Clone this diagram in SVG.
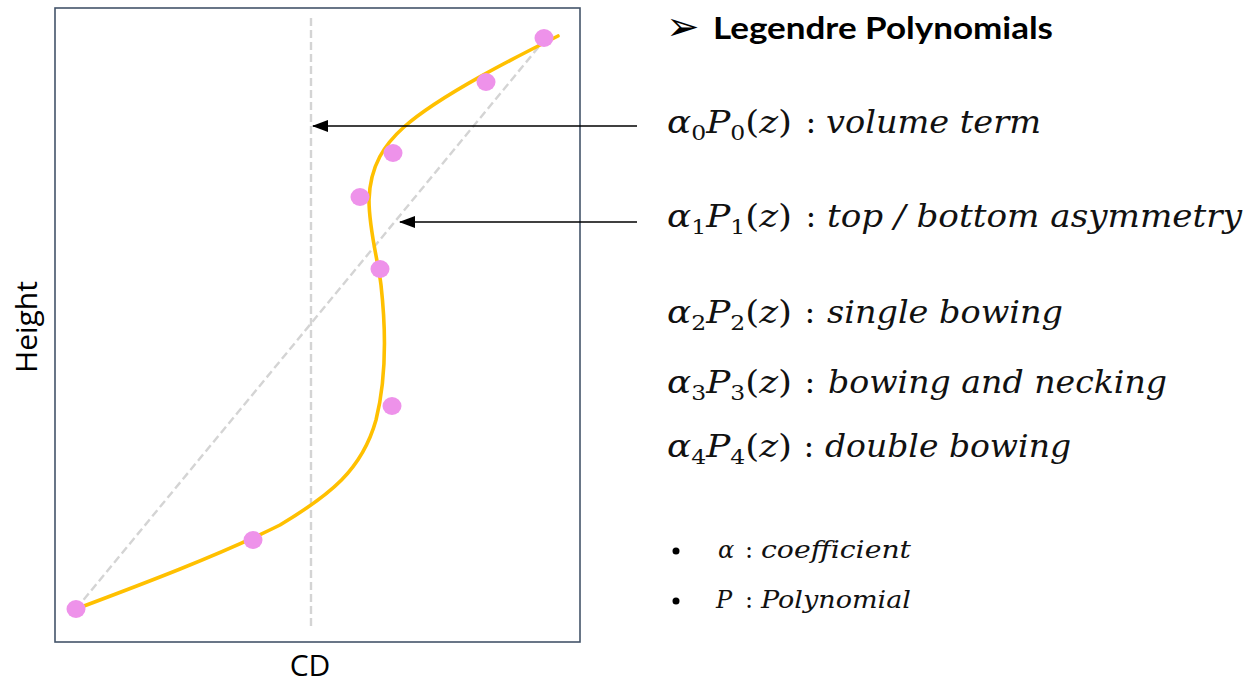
<svg xmlns="http://www.w3.org/2000/svg" width="1255" height="684" viewBox="0 0 1255 684">
<style>
.frame{fill:none;stroke:#44546A;stroke-width:1.6}
.dash{fill:none;stroke:#D4D4D4;stroke-width:2.4;stroke-dasharray:8 4}
.curve{fill:none;stroke:#FFC000;stroke-width:3.6;stroke-linecap:round}
.dot{fill:#EE92EA}
.conn{stroke:#000;stroke-width:1.4;fill:none}
.axis{font-family:"Open Sans","DejaVu Sans",sans-serif;font-size:30px;fill:#000}
.title{font-family:Lato,"Liberation Sans",sans-serif;font-weight:bold;font-size:31px;fill:#000}
.m{font-family:"DejaVu Serif","Liberation Serif",serif;font-size:32px;fill:#111}
.i{font-style:italic}
.sub{font-size:21px;font-style:normal}
.s{font-family:"DejaVu Serif","Liberation Serif",serif;font-size:24px;fill:#111}
</style>
<defs>
<marker id="ah" markerWidth="16" markerHeight="12" refX="15" refY="6" orient="auto" markerUnits="userSpaceOnUse">
<path d="M0,0 L16,6 L0,12 Z" fill="#000"/>
</marker>
</defs>
<g id="plot">
<rect class="frame" x="55" y="8" width="525" height="634"/>
<line class="dash" x1="311" y1="18" x2="311" y2="630"/>
<line class="dash" x1="76" y1="609" x2="546" y2="38"/>
<path class="curve" d="M558,36 C520,55 440,95 404,127 C385,144 370,165 369,200 C369,230 378,260 381,285 C386,330 386,380 376,420 C362,470 330,495 280,525 C220,555 140,585 76,609"/>
<ellipse class="dot" cx="544" cy="38" rx="9.5" ry="9"/>
<ellipse class="dot" cx="486" cy="82" rx="9.5" ry="9"/>
<ellipse class="dot" cx="393" cy="153" rx="9.5" ry="9"/>
<ellipse class="dot" cx="360" cy="197" rx="9.5" ry="9"/>
<ellipse class="dot" cx="380" cy="269" rx="9.5" ry="9"/>
<ellipse class="dot" cx="392" cy="406" rx="9.5" ry="9"/>
<ellipse class="dot" cx="253" cy="540" rx="9.5" ry="9"/>
<ellipse class="dot" cx="76" cy="609" rx="9.5" ry="9"/>
<text class="axis" x="310" y="676" text-anchor="middle">CD</text>
<text class="axis" transform="translate(37,327) rotate(-90)" text-anchor="middle">Height</text>
</g>
<g id="connectors">
<line class="conn" x1="637" y1="126" x2="313" y2="126" marker-end="url(#ah)"/>
<line class="conn" x1="637" y1="222" x2="400" y2="222" marker-end="url(#ah)"/>
</g>
<g id="title">
<text x="666" y="40" style="font-family:'DejaVu Sans',sans-serif;font-size:40px">➢</text>
<text class="title" x="713" y="39" textLength="340" lengthAdjust="spacingAndGlyphs">Legendre Polynomials</text>
</g>
<g id="term0">
<text class="m" x="667" y="133" textLength="125" lengthAdjust="spacingAndGlyphs"><tspan class="i">α</tspan><tspan class="sub" dy="7">0</tspan><tspan class="i" dy="-7">P</tspan><tspan class="sub" dy="7">0</tspan><tspan dy="-7">(</tspan><tspan class="i">z</tspan>)</text>
<text class="m" x="811" y="133" text-anchor="middle">:</text>
<text class="m i" x="826" y="133" textLength="215" lengthAdjust="spacingAndGlyphs">volume term</text>
</g>
<g id="term1">
<text class="m" x="667" y="227" textLength="125" lengthAdjust="spacingAndGlyphs"><tspan class="i">α</tspan><tspan class="sub" dy="7">1</tspan><tspan class="i" dy="-7">P</tspan><tspan class="sub" dy="7">1</tspan><tspan dy="-7">(</tspan><tspan class="i">z</tspan>)</text>
<text class="m" x="811" y="227" text-anchor="middle">:</text>
<text class="m i" x="827" y="227" textLength="415" lengthAdjust="spacingAndGlyphs">top / bottom asymmetry</text>
</g>
<g id="term2">
<text class="m" x="667" y="323" textLength="125" lengthAdjust="spacingAndGlyphs"><tspan class="i">α</tspan><tspan class="sub" dy="7">2</tspan><tspan class="i" dy="-7">P</tspan><tspan class="sub" dy="7">2</tspan><tspan dy="-7">(</tspan><tspan class="i">z</tspan>)</text>
<text class="m" x="810" y="323" text-anchor="middle">:</text>
<text class="m i" x="827" y="323" textLength="236" lengthAdjust="spacingAndGlyphs">single bowing</text>
</g>
<g id="term3">
<text class="m" x="667" y="393" textLength="125" lengthAdjust="spacingAndGlyphs"><tspan class="i">α</tspan><tspan class="sub" dy="7">3</tspan><tspan class="i" dy="-7">P</tspan><tspan class="sub" dy="7">3</tspan><tspan dy="-7">(</tspan><tspan class="i">z</tspan>)</text>
<text class="m" x="810" y="393" text-anchor="middle">:</text>
<text class="m i" x="828" y="393" textLength="339" lengthAdjust="spacingAndGlyphs">bowing and necking</text>
</g>
<g id="term4">
<text class="m" x="667" y="457" textLength="125" lengthAdjust="spacingAndGlyphs"><tspan class="i">α</tspan><tspan class="sub" dy="7">4</tspan><tspan class="i" dy="-7">P</tspan><tspan class="sub" dy="7">4</tspan><tspan dy="-7">(</tspan><tspan class="i">z</tspan>)</text>
<text class="m" x="809" y="457" text-anchor="middle">:</text>
<text class="m i" x="825" y="457" textLength="246" lengthAdjust="spacingAndGlyphs">double bowing</text>
</g>
<g id="notes">
<circle cx="676" cy="551" r="3.5"/>
<circle cx="676" cy="601" r="3.5"/>
<text class="s i" x="718" y="558">α</text>
<text class="s" x="749" y="558" text-anchor="middle">:</text>
<text class="s i" x="761" y="558" textLength="150" lengthAdjust="spacingAndGlyphs">coefficient</text>
<text class="s i" x="716" y="608">P</text>
<text class="s" x="749" y="608" text-anchor="middle">:</text>
<text class="s i" x="761" y="608" textLength="150" lengthAdjust="spacingAndGlyphs">Polynomial</text>
</g>
</svg>
